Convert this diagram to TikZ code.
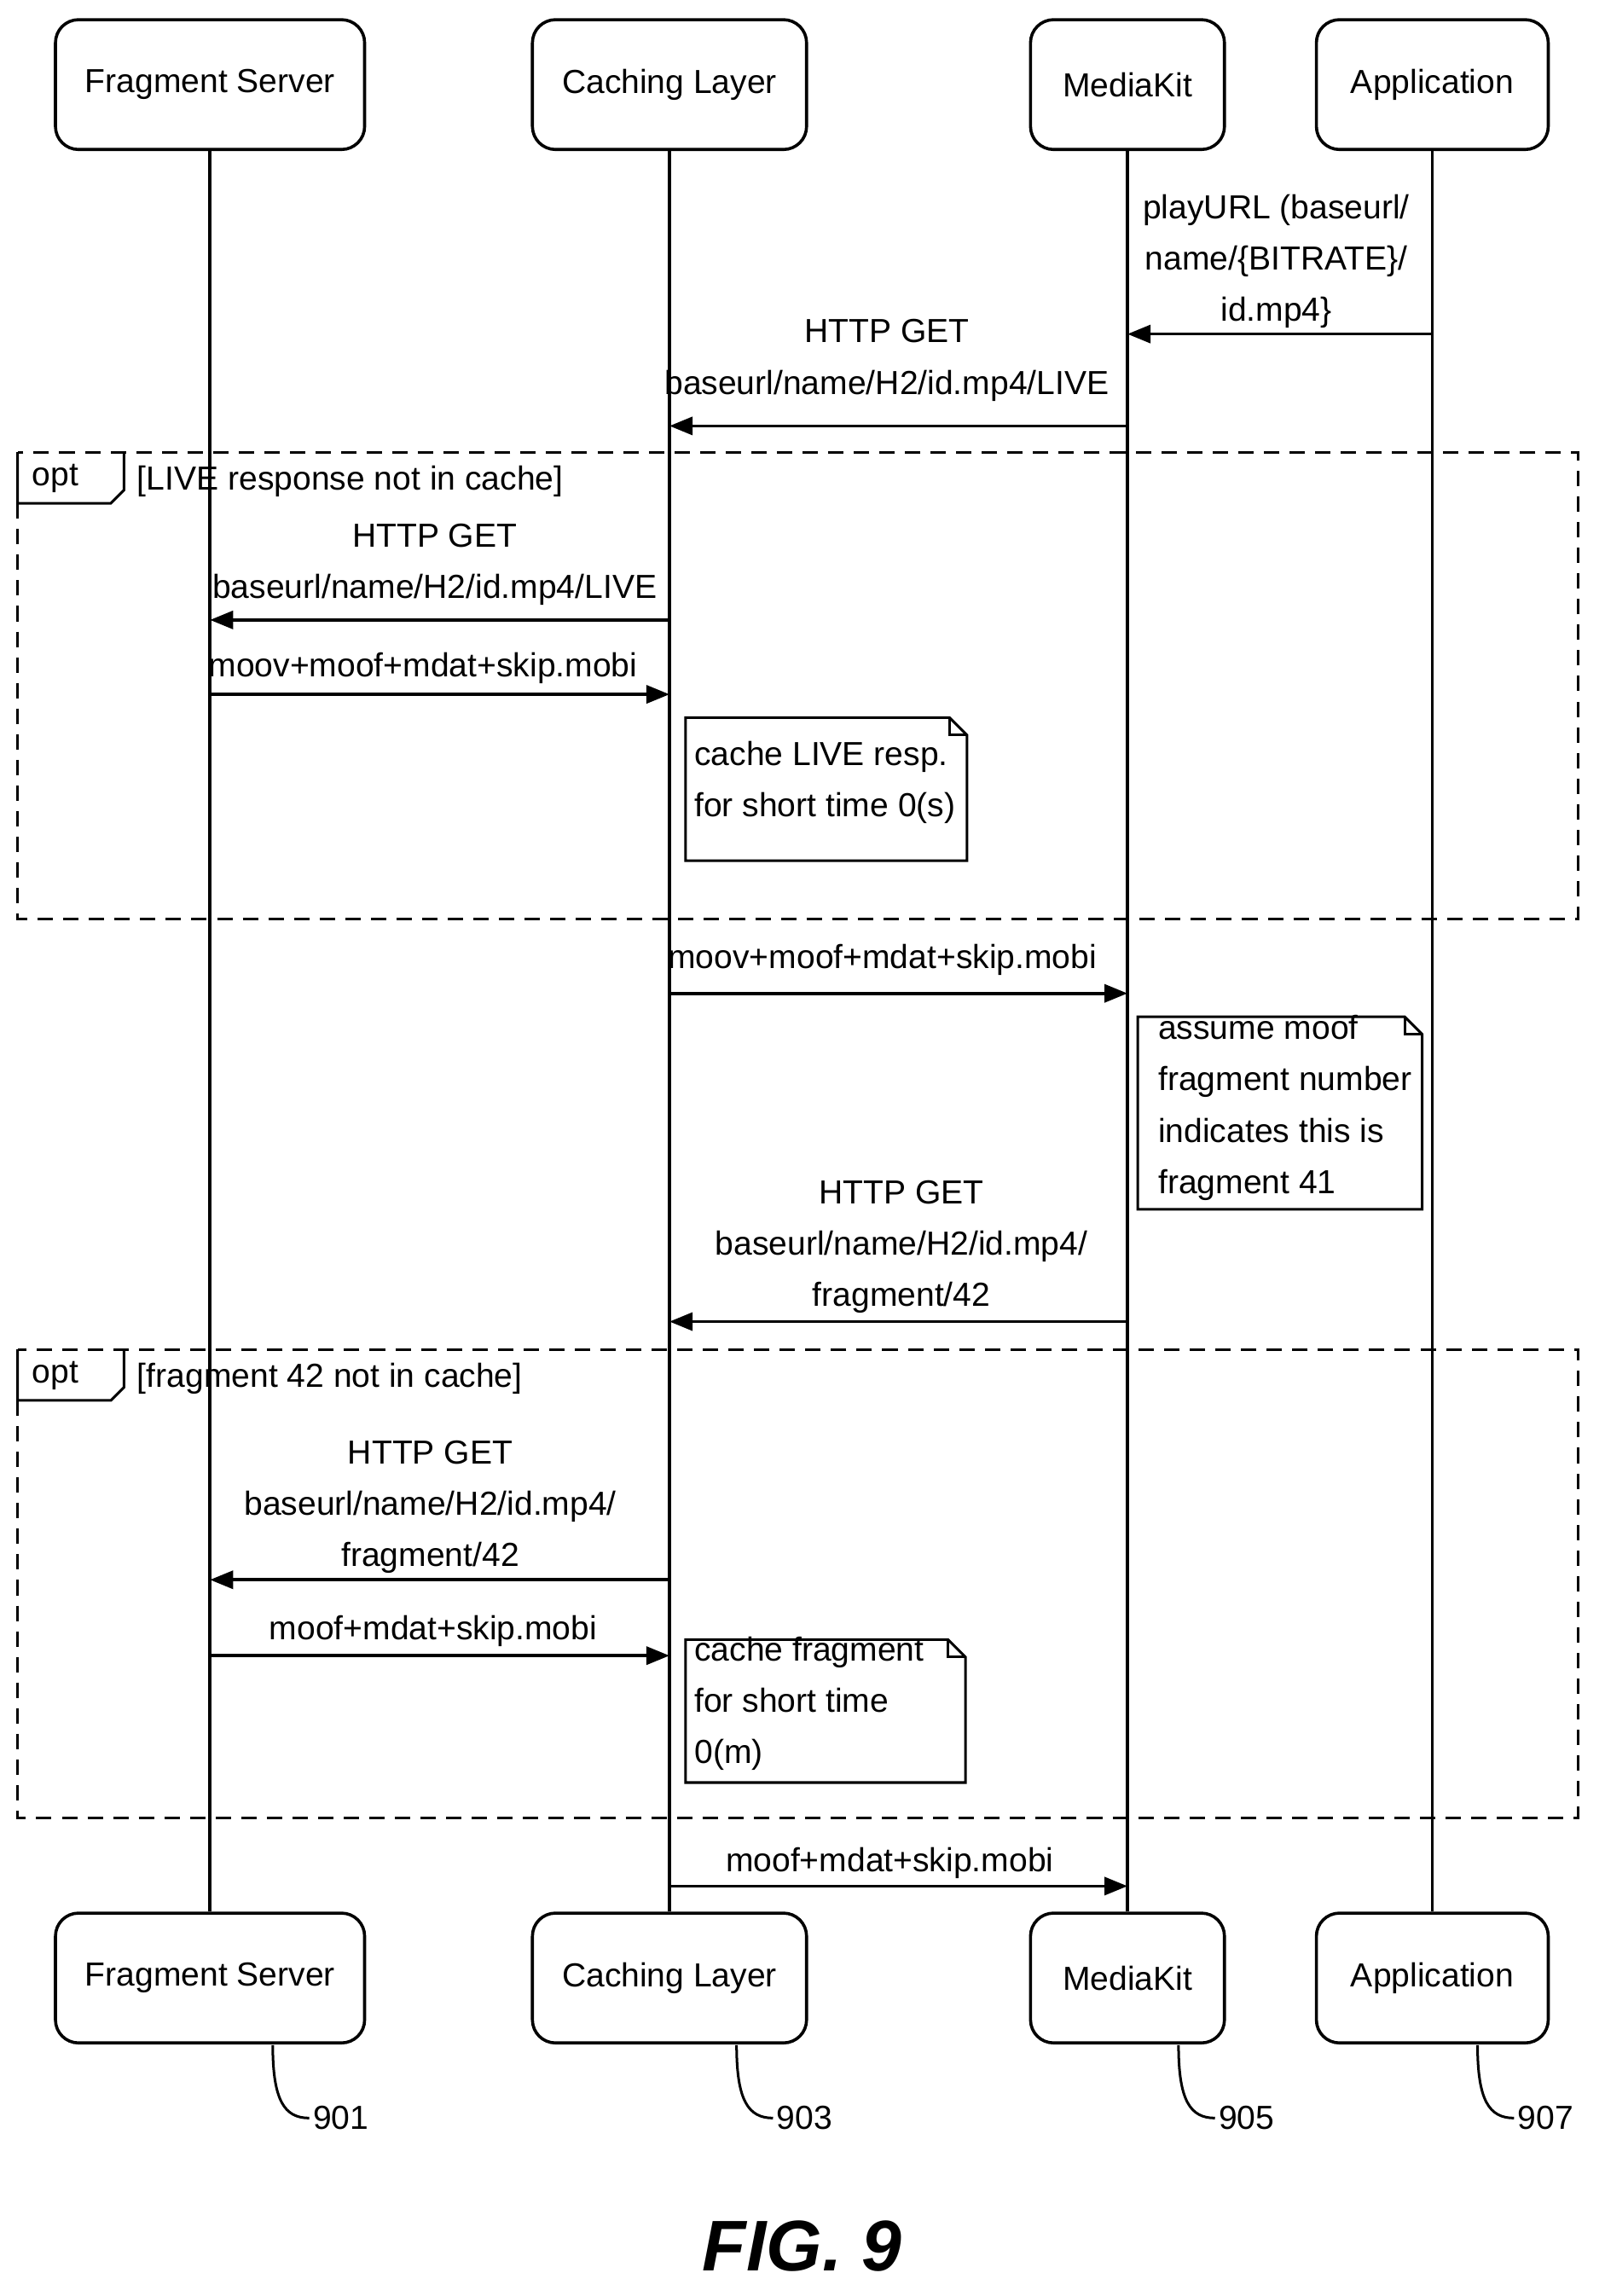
\documentclass[tikz,border=0pt]{standalone}
\usepackage{fontspec}
\setmainfont{Liberation Sans}
\usetikzlibrary{arrows.meta,positioning}
\tikzset{
  actor/.style={draw,line width=1.2pt,rounded corners=9pt,minimum height=1.78cm,font=\fontsize{13}{16}\selectfont},
  life/.style={line width=1.2pt},
  msg/.style={line width=1.2pt,-{Triangle[length=9pt,width=7pt]}},
  lbl/.style={align=center,font=\fontsize{13}{20}\selectfont,inner sep=1pt},
  frame/.style={line width=1pt,dash pattern=on 6pt off 4pt},
  note/.style={line width=1pt},
  num/.style={font=\fontsize{13}{16}\selectfont}
}
\begin{document}
\begin{tikzpicture}[x=0.02cm,y=-0.02cm]
  \useasboundingbox (0,0) rectangle (1100,1574);
  % actors, top and bottom
  \foreach \nm/\x/\w/\t in {fs/144/4.24/Fragment Server,cl/459/3.76/Caching Layer,mk/773/2.66/MediaKit,ap/982/3.18/Application}
  {
    \node[actor,minimum width=\w cm] (\nm) at (\x,58) {\t};
    \node[actor,minimum width=\w cm] (\nm b) at (\x,1356) {\t};
    \draw[life] (\nm.south) -- (\nm b.north);
  }
  % messages
  \foreach \c/\y in {m1/229,m2/292,m3/425,m4/476,m5/681,m6/906,m7/1083,m8/1135,m9/1293}
    \coordinate (\c) at (0,\y);
  \draw[msg] (ap |- m1) -- (mk |- m1);
  \node[lbl] at (875,179) {playURL (baseurl/\\name/\{BITRATE\}/\\id.mp4\}};
  \draw[msg] (mk |- m2) -- (cl |- m2);
  \node[lbl] at (608,247) {HTTP GET\\baseurl/name/H2/id.mp4/LIVE};
  \draw[msg] (cl |- m3) -- (fs |- m3);
  \node[lbl] at (298,387) {HTTP GET\\baseurl/name/H2/id.mp4/LIVE};
  \draw[msg] (fs |- m4) -- (cl |- m4);
  \node[lbl] at (290,458) {moov+moof+mdat+skip.mobi};
  \draw[msg] (cl |- m5) -- (mk |- m5);
  \node[lbl] at (605,658) {moov+moof+mdat+skip.mobi};
  \draw[msg] (mk |- m6) -- (cl |- m6);
  \node[lbl] at (618,855) {HTTP GET\\baseurl/name/H2/id.mp4/\\fragment/42};
  \draw[msg] (cl |- m7) -- (fs |- m7);
  \node[lbl] at (295,1033) {HTTP GET\\baseurl/name/H2/id.mp4/\\fragment/42};
  \draw[msg] (fs |- m8) -- (cl |- m8);
  \node[lbl] at (297,1118) {moof+mdat+skip.mobi};
  \draw[msg] (cl |- m9) -- (mk |- m9);
  \node[lbl] at (610,1277) {moof+mdat+skip.mobi};
  % opt frames
  \foreach \top/\bot/\cond in {310/630/{[LIVE response not in cache]},925/1246/{[fragment 42 not in cache]}}
  {
    \draw[frame] (12,\top) rectangle (1082,\bot);
    \draw[note] (12,\top) -- (12,\top+35) -- (76,\top+35) -- (85,\top+26) -- (85,\top);
    \node[lbl,anchor=west] at (20,\top+18) {opt};
    \node[lbl,anchor=west] at (92,\top+20) {\cond};
  }
  % notes
  \foreach \xa/\ya/\xb/\yb in {470/492/663/590,780/697/975/829,470/1124/662/1222}
  {
    \draw[note,fill=white] (\xa,\ya) -- (\xb-12,\ya) -- (\xb,\ya+12) -- (\xb,\yb) -- (\xa,\yb) -- cycle;
    \draw[note] (\xb-12,\ya) -- (\xb-12,\ya+12) -- (\xb,\ya+12);
  }
  \node[lbl,anchor=north west,align=left] at (474,506) {cache LIVE resp.\\for short time 0(s)};
  \node[lbl,anchor=north west,align=left] at (792,694) {assume moof\\fragment number\\indicates this is\\fragment 41};
  \node[lbl,anchor=north west,align=left] at (474,1120) {cache fragment\\for short time\\0(m)};
  % reference numerals
  \foreach \nm/\x/\t in {fsb/187/901,clb/505/903,mkb/808/905,apb/1013/907}
  {
    \draw[line width=1pt] (\x,1402) .. controls (\x,1440) and (\x+8,1452) .. (\x+25,1452)
      node[num,anchor=west,inner sep=1pt] {\t};
  }
  \node[font=\bfseries\itshape\fontsize{28}{32}\selectfont] at (550,1540) {FIG. 9};
\end{tikzpicture}
\end{document}
